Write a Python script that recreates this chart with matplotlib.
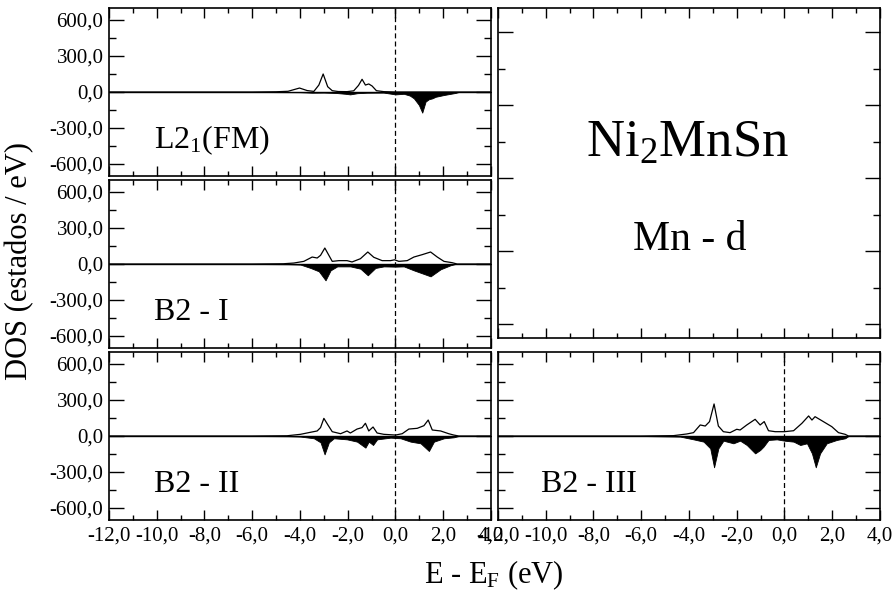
import numpy as np
import matplotlib
matplotlib.use('Agg')
import matplotlib.pyplot as plt
from matplotlib.ticker import MultipleLocator, FuncFormatter, NullFormatter

plt.rcParams['font.family'] = ['Liberation Serif', 'DejaVu Serif']
plt.rcParams['mathtext.fontset'] = 'custom'
plt.rcParams['mathtext.rm'] = 'Liberation Serif'
plt.rcParams['mathtext.it'] = 'Liberation Serif:italic'
plt.rcParams['axes.unicode_minus'] = False

# Mn-d DOS: energy (eV) and states/eV, up = spin up, dn = spin down
e_l21_up = [-12, -6, -5, -4.5, -4.02, -3.7, -3.42, -3.21, -3.03, -2.84, -2.65, -2.4, -2.03,
            -1.75, -1.55, -1.40, -1.26, -1.12, -0.98, -0.80, -0.49, 0, 4]
dos_l21_up = [0, 0, 2, 6, 33, 12, 5, 58, 150, 44, 11, 4, 3,
              10, 55, 106, 58, 67, 50, 11, 3, 0, 0]
e_l21_dn = [-12, -6, -4, -3.5, -3.0, -2.5, -2.1, -1.9, -1.6, -1.2, -0.5, 0, 0.35, 0.6, 0.77,
            0.98, 1.12, 1.26, 1.4, 1.54, 1.68, 2.03, 2.51, 2.65, 4]
dos_l21_dn = [0, 0, -2, -6, -5, -8, -15, -20, -10, -6, -5, -20, -15, -30, -53,
              -108, -172, -80, -60, -53, -40, -25, -8, 0, 0]

e_b2i_up = [-12, -6, -4.7, -4.26, -3.84, -3.49, -3.28, -3.14, -2.96, -2.79, -2.65, -2.37, -2.03,
            -1.82, -1.47, -1.16, -0.91, -0.56, -0.21, -0.04, 0.14, 0.49, 0.77, 1.12, 1.47, 1.75,
            2.03, 2.37, 2.58, 4]
dos_b2i_up = [0, 0, 2, 8, 22, 58, 50, 72, 133, 72, 22, 28, 28,
              17, 44, 100, 56, 28, 28, 35, 22, 28, 58, 78, 100, 58,
              22, 11, 0, 0]
e_b2i_dn = [-12, -6, -4.5, -3.98, -3.56, -3.21, -2.93, -2.72, -2.44, -1.89, -1.47, -1.16, -0.84,
            -0.49, 0, 0.35, 0.77, 1.47, 1.89, 2.30, 2.51, 4]
dos_b2i_dn = [0, 0, -2, -5, -33, -61, -136, -53, -20, -20, -39, -94, -33,
              -20, -22, -20, -53, -103, -44, -11, 0, 0]

e_b2ii_up = [-12, -6, -4.54, -3.98, -3.56, -3.28, -3.14, -3.00, -2.83, -2.65, -2.30, -2.03, -1.89,
             -1.61, -1.40, -1.26, -1.12, -0.94, -0.77, -0.49, 0, 0.28, 0.56, 0.91, 1.19, 1.37,
             1.54, 1.89, 2.23, 2.44, 2.65, 4]
dos_b2ii_up = [0, 0, 2, 14, 31, 42, 70, 147, 92, 36, 19, 42, 25,
               58, 70, 106, 42, 75, 25, 14, 8, 19, 58, 64, 86, 133,
               50, 42, 19, 8, 0, 0]
e_b2ii_dn = [-12, -6, -4.5, -3.98, -3.42, -3.14, -2.97, -2.79, -2.58, -2.03, -1.61, -1.26, -1.12,
             -0.94, -0.77, -0.21, 0.21, 0.63, 1.05, 1.40, 1.61, 2.03, 2.44, 2.65, 4]
dos_b2ii_dn = [0, 0, -2, -5, -19, -53, -153, -53, -19, -28, -47, -97, -47,
               -75, -28, -14, -19, -47, -61, -125, -47, -19, -11, 0, 0]

e_b2iii_up = [-12, -6, -4.65, -4.09, -3.81, -3.53, -3.32, -3.14, -2.95, -2.77, -2.56, -2.28, -2.00,
              -1.86, -1.58, -1.23, -1.02, -0.85, -0.67, -0.39, 0, 0.38, 0.73, 1.01, 1.15, 1.28,
              1.56, 1.98, 2.26, 2.54, 2.68, 4]
dos_b2iii_up = [0, 0, 3, 17, 28, 92, 83, 120, 267, 83, 36, 28, 56,
                50, 92, 139, 92, 120, 44, 36, 36, 44, 106, 167, 133, 161,
                128, 78, 28, 14, 0, 0]
e_b2iii_dn = [-12, -6, -4.37, -3.81, -3.39, -3.11, -2.95, -2.77, -2.56, -2.14, -1.86, -1.58, -1.23,
              -1.02, -0.88, -0.67, -0.32, 0, 0.38, 0.66, 0.94, 1.15, 1.31, 1.49, 1.77, 2.19,
              2.54, 2.68, 4]
dos_b2iii_dn = [0, 0, -5, -28, -47, -103, -261, -103, -39, -61, -39, -75, -145,
                -117, -89, -33, -28, -39, -47, -75, -61, -145, -261, -145, -61, -33,
                -19, 0, 0]

labels = ['L2$_1$(FM)', 'B2 - I', 'B2 - II', 'B2 - III']

W, H = 895, 597


def box(x0, y0, x1, y1):
    # pixel box (top-left origin) -> figure fraction
    return [x0 / W, 1 - y1 / H, (x1 - x0) / W, (y1 - y0) / H]


def comma(v, pos):
    return ('%.1f' % v).replace('.', ',')


def style(ax, ylabels=True, xlabels=False, ylim=(-700, 700), ymaj=300):
    ax.set_xlim(-12, 4)
    ax.set_ylim(*ylim)
    ax.xaxis.set_major_locator(MultipleLocator(2))
    ax.xaxis.set_minor_locator(MultipleLocator(1))
    ax.yaxis.set_major_locator(MultipleLocator(ymaj))
    ax.yaxis.set_minor_locator(MultipleLocator(ymaj / 2))
    ax.tick_params(which='both', direction='in', top=True, right=True, width=1.0,
                   labelsize=15, color='black')
    ax.tick_params(axis='x', which='major', length=7, pad=5)
    ax.tick_params(axis='x', which='minor', length=3.5)
    ax.tick_params(axis='y', which='major', length=10.5, pad=4)
    ax.tick_params(axis='y', which='minor', length=5)
    ax.xaxis.set_major_formatter(FuncFormatter(comma) if xlabels else NullFormatter())
    ax.yaxis.set_major_formatter(FuncFormatter(comma) if ylabels else NullFormatter())
    for s in ax.spines.values():
        s.set_linewidth(1.2)


def dos_panel(ax, e_up, d_up, e_dn, d_dn, label, lx):
    ax.fill_between(e_dn, d_dn, 0, color='black', lw=0.6)
    ax.plot(e_up, d_up, color='black', lw=0.9)
    ax.axhline(0, color='black', lw=1.0)
    ax.axvline(0, color='black', lw=0.9, ls=(0, (4, 2.5)))
    ax.text(lx, -470, label, fontsize=23, va='baseline', ha='left')


fig = plt.figure(figsize=(8.95, 5.97), dpi=100)

ax1 = fig.add_axes(box(109, 8, 491, 176))
ax2 = fig.add_axes(box(109, 180, 491, 348))
ax3 = fig.add_axes(box(109, 352, 491, 520))
ax4 = fig.add_axes(box(498, 352, 880, 520))
ax5 = fig.add_axes(box(498, 8, 880, 338))

dos_panel(ax1, e_l21_up, dos_l21_up, e_l21_dn, dos_l21_dn, labels[0], -10.1)
dos_panel(ax2, e_b2i_up, dos_b2i_up, e_b2i_dn, dos_b2i_dn, labels[1], -10.1)
dos_panel(ax3, e_b2ii_up, dos_b2ii_up, e_b2ii_dn, dos_b2ii_dn, labels[2], -10.1)
dos_panel(ax4, e_b2iii_up, dos_b2iii_up, e_b2iii_dn, dos_b2iii_dn, labels[3], -10.2)

style(ax1)
style(ax2)
style(ax3, xlabels=True)
style(ax4, ylabels=False, xlabels=True)
style(ax5, ylabels=False, ylim=(-0.38, 8.66), ymaj=2)

ax5.text(0.495, 0.548, 'Ni$_2$MnSn', transform=ax5.transAxes, fontsize=38,
         ha='center', va='baseline')
ax5.text(0.503, 0.267, 'Mn - d', transform=ax5.transAxes, fontsize=30,
         ha='center', va='baseline')

fig.text(0.552, 0.0235, 'E - E$_\\mathrm{F}$ (eV)', fontsize=22, ha='center', va='baseline')
fig.text(0.022, 0.563, 'DOS (estados / eV)', fontsize=22, rotation=90,
         ha='center', va='center')

fig.savefig('out.png', dpi=100)
